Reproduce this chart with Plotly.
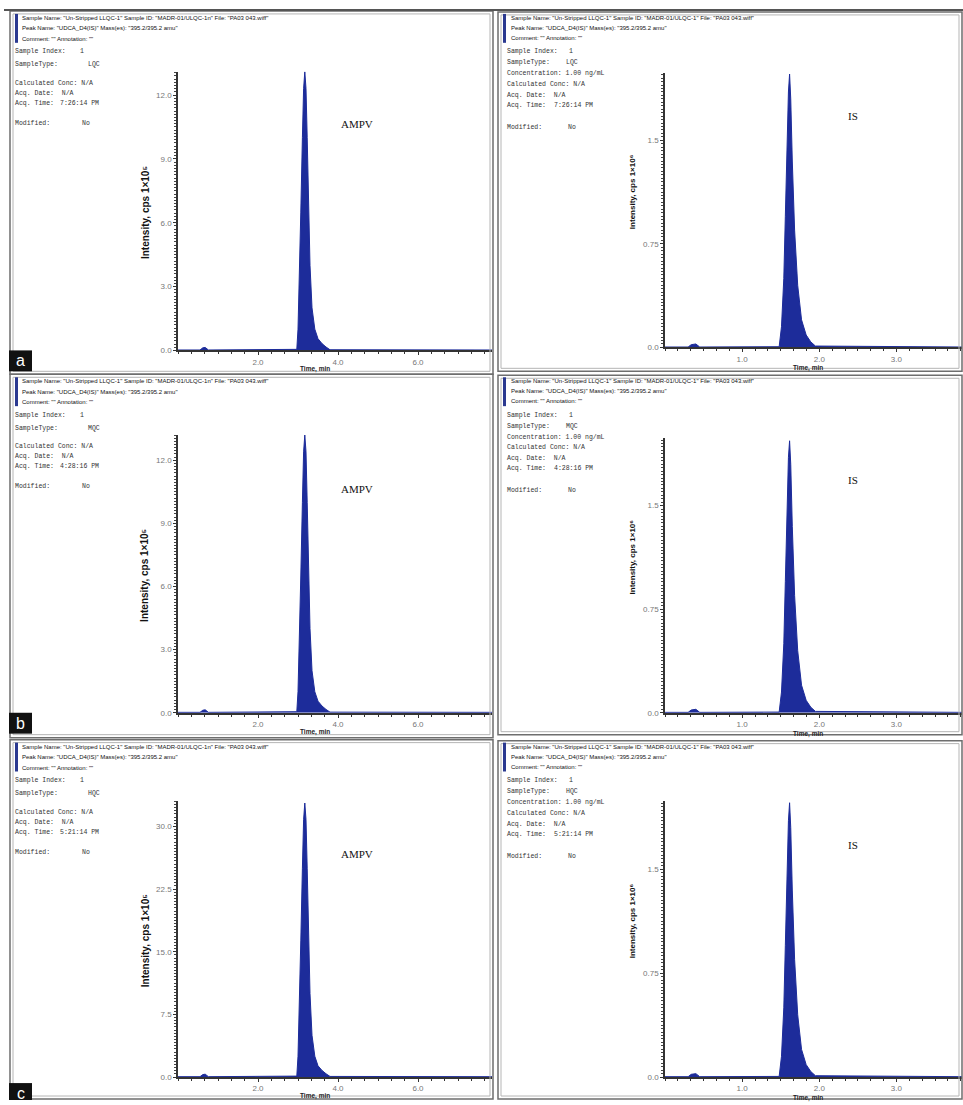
import plotly.graph_objects as go

W, H = 963, 1105

# ---------------- data ----------------
AMPV_TIME = [0.00, 0.55, 0.62, 0.68, 0.76, 2.97, 3.00, 3.03, 3.07, 3.11, 3.14, 3.17,
             3.20, 3.23, 3.26, 3.30, 3.35, 3.42, 3.50, 3.60, 3.70, 3.80, 7.85]
AMPV_LQC = [0.02, 0.02, 0.12, 0.14, 0.02, 0.05, 1.0, 3.0, 6.5, 10.0, 12.3, 13.1,
            12.3, 10.0, 7.0, 4.0, 2.0, 1.0, 0.55, 0.32, 0.16, 0.03, 0.02]
AMPV_MQC = [0.02, 0.02, 0.12, 0.14, 0.02, 0.05, 1.0, 3.0, 6.5, 10.0, 12.4, 13.2,
            12.4, 10.0, 7.0, 4.0, 2.0, 1.0, 0.55, 0.32, 0.16, 0.03, 0.02]
AMPV_HQC = [0.05, 0.05, 0.30, 0.35, 0.05, 0.12, 2.5, 7.5, 16.3, 25.0, 30.8, 32.8,
            30.8, 25.0, 17.5, 10.0, 5.0, 2.5, 1.35, 0.8, 0.4, 0.08, 0.05]

IS_TIME = [0.00, 0.30, 0.34, 0.40, 0.45, 1.48, 1.51, 1.54, 1.56, 1.58, 1.60, 1.615,
           1.63, 1.65, 1.68, 1.72, 1.77, 1.83, 1.89, 1.95, 3.85]
IS_LQC = [0.003, 0.003, 0.020, 0.025, 0.003, 0.005, 0.15, 0.50, 0.95, 1.45, 1.85, 1.98,
          1.80, 1.35, 0.85, 0.45, 0.20, 0.09, 0.04, 0.01, 0.003]
IS_MQC = [0.003, 0.003, 0.020, 0.025, 0.003, 0.005, 0.15, 0.50, 0.95, 1.45, 1.85, 1.97,
          1.80, 1.35, 0.85, 0.45, 0.20, 0.09, 0.04, 0.01, 0.003]
IS_HQC = [0.003, 0.003, 0.020, 0.025, 0.003, 0.005, 0.15, 0.50, 0.95, 1.45, 1.85, 1.98,
          1.80, 1.35, 0.85, 0.45, 0.20, 0.09, 0.04, 0.01, 0.003]

AMPV_YTICKS_LOW = [0.0, 3.0, 6.0, 9.0, 12.0]
AMPV_YTICKS_HIGH = [0.0, 7.5, 15.0, 22.5, 30.0]
IS_YTICKS = [0.0, 0.75, 1.5]
IS_YTICK_LABELS = ["0.0", "0.75", "1.5"]
AMPV_XTICKS = [2.0, 4.0, 6.0]
IS_XTICKS = [1.0, 2.0, 3.0]

SAMPLE_TYPES = ["LQC", "MQC", "HQC"]
ACQ_TIMES = ["7:26:14 PM", "4:28:16 PM", "5:21:14 PM"]
PANEL_LETTERS = ["a", "b", "c"]

HEADER_LEFT = ['Sample Name: "Un-Stripped LLQC-1" Sample ID: "MADR-01/ULQC-1n" File: "PA03 043.wiff"',
               'Peak Name: "UDCA_D4(IS)" Mass(es): "395.2/395.2 amu"',
               'Comment: "" Annotation: ""']
HEADER_RIGHT = ['Sample Name: "Un-Stripped LLQC-1" Sample ID: "MADR-01/ULQC-1" File: "PA03 043.wiff"',
                'Peak Name: "UDCA_D4(IS)" Mass(es): "395.2/395.2 amu"',
                'Comment: "" Annotation: ""']

# ---------------- helpers ----------------
def X(px):
    return px / W


def Y(py):
    return 1 - py / H


FILL = "#1d2c9a"
MONO = "Liberation Mono, DejaVu Sans Mono, monospace"
NARROW = "Liberation Sans Narrow, Liberation Sans, Arial Narrow, sans-serif"
SANS = "Liberation Sans, Arial, sans-serif"
SERIF = "Liberation Serif, Times New Roman, serif"

fig = go.Figure()
annotations = []
shapes = []

row_off = [0, 365, 732]
left_dom_y = [(72, 352), (437, 716), (805, 1082)]
right_dom_y = [(73, 349), (440, 716), (805, 1082)]
ampv_data = [AMPV_LQC, AMPV_MQC, AMPV_HQC]
is_data = [IS_LQC, IS_MQC, IS_HQC]
ampv_ymax = [13.1, 13.2, 33.0]
is_ymax = [1.99, 1.99, 1.99]
ampv_minor = [0.15, 0.15, 0.375]

axis_common = dict(showgrid=False, zeroline=False, showline=True, linecolor="#333",
                   linewidth=1.5, ticks="outside", ticklen=3, tickcolor="#333",
                   tickfont=dict(size=8, color="#777", family=NARROW), fixedrange=True)


def txt(x, y, s, font, size, color="#333", xanchor="left", angle=0, weight="normal"):
    annotations.append(dict(x=X(x), y=Y(y), xref="paper", yref="paper", text=s,
                            showarrow=False, xanchor=xanchor, yanchor="middle",
                            textangle=angle,
                            font=dict(family=font, size=size, color=color, weight=weight)))


for r in range(3):
    o = row_off[r]
    il = 2 * r + 1
    ir = 2 * r + 2
    # ----- left AMPV panel -----
    fig.add_trace(go.Scatter(x=AMPV_TIME, y=ampv_data[r], mode="lines", fill="tozeroy",
                             line=dict(color=FILL, width=1), fillcolor=FILL,
                             xaxis=f"x{il}", yaxis=f"y{il}", showlegend=False,
                             hoverinfo="skip"))
    yt = AMPV_YTICKS_HIGH if r == 2 else AMPV_YTICKS_LOW
    fig.layout[f"xaxis{il}"] = dict(axis_common, domain=[X(178), X(492)], range=[0, 7.85],
                                    anchor=f"y{il}", tickvals=AMPV_XTICKS, tickformat=".1f",
                                    minor=dict(dtick=1/3, tick0=0, ticks="outside", ticklen=2,
                                               tickcolor="#333"))
    fig.layout[f"yaxis{il}"] = dict(axis_common, domain=[Y(left_dom_y[r][1]), Y(left_dom_y[r][0])],
                                    range=[0, ampv_ymax[r]], anchor=f"x{il}", tickvals=yt,
                                    tickformat=".1f",
                                    minor=dict(dtick=ampv_minor[r], tick0=0, ticks="outside",
                                               ticklen=2, tickcolor="#444"))
    # ----- right IS panel -----
    fig.add_trace(go.Scatter(x=IS_TIME, y=is_data[r], mode="lines", fill="tozeroy",
                             line=dict(color=FILL, width=1), fillcolor=FILL,
                             xaxis=f"x{ir}", yaxis=f"y{ir}", showlegend=False,
                             hoverinfo="skip"))
    fig.layout[f"xaxis{ir}"] = dict(axis_common, domain=[X(665), X(962)], range=[0, 3.85],
                                    anchor=f"y{ir}", tickvals=IS_XTICKS, tickformat=".1f",
                                    minor=dict(dtick=1/6, tick0=0, ticks="outside", ticklen=2,
                                               tickcolor="#333"))
    fig.layout[f"yaxis{ir}"] = dict(axis_common, domain=[Y(right_dom_y[r][1]), Y(right_dom_y[r][0])],
                                    range=[0, is_ymax[r]], anchor=f"x{ir}", tickvals=IS_YTICKS,
                                    ticktext=IS_YTICK_LABELS,
                                    minor=dict(dtick=0.025, tick0=0, ticks="outside",
                                               ticklen=2, tickcolor="#444"))

    # ----- frames -----
    top = 11 + o
    bot_l = [376, 741, 1104][r]
    bot_r = [373, 738, 1104][r]
    for (x0, x1, y0, y1) in [(10, 493, top, bot_l), (498, 962, top + 1, bot_r)]:
        shapes.append(dict(type="rect", xref="paper", yref="paper", x0=X(x0), x1=X(x1),
                           y0=Y(y1), y1=Y(y0), line=dict(color="#6e6e6e", width=1.5)))
        shapes.append(dict(type="rect", xref="paper", yref="paper", x0=X(x0 + 3), x1=X(x1 - 3),
                           y0=Y(y1 - 3), y1=Y(y0 + 3), line=dict(color="#b5b5b5", width=1)))
    # blue header bars
    for xb in (15, 503):
        shapes.append(dict(type="rect", xref="paper", yref="paper", x0=X(xb), x1=X(xb + 3),
                           y0=Y(43 + o), y1=Y(14 + o), fillcolor="#2b3990", line=dict(width=0)))

    # ----- header text -----
    for k, s in enumerate(HEADER_LEFT):
        txt(20, 18 + o + 10.5 * k, s, NARROW, 6, "#111")
    for k, s in enumerate(HEADER_RIGHT):
        txt(509, 18 + o + 10 * k, s, NARROW, 6, "#111")

    # ----- left info block -----
    st = SAMPLE_TYPES[r]
    tm = ACQ_TIMES[r]
    txt(13, 52 + o, "Sample Index:", MONO, 6.5)
    txt(78, 52 + o, "1", MONO, 6.5)
    txt(13, 65 + o, "SampleType:", MONO, 6.5)
    txt(86, 65 + o, st, MONO, 6.5)
    txt(13, 84 + o, "Calculated Conc: N/A", MONO, 6.5)
    txt(13, 94 + o, "Acq. Date:  N/A", MONO, 6.5)
    txt(13, 104 + o, "Acq. Time:", MONO, 6.5)
    txt(58, 104 + o, tm, MONO, 6.5)
    txt(13, 124 + o, "Modified:", MONO, 6.5)
    txt(80, 124 + o, "No", MONO, 6.5)

    # ----- right info block -----
    txt(505, 52 + o, "Sample Index:", MONO, 6.5)
    txt(567, 52 + o, "1", MONO, 6.5)
    txt(505, 63 + o, "SampleType:", MONO, 6.5)
    txt(564, 63 + o, st, MONO, 6.5)
    txt(505, 74 + o, "Concentration: 1.00 ng/mL", MONO, 6.5)
    txt(505, 85 + o, "Calculated Conc: N/A", MONO, 6.5)
    txt(505, 96 + o, "Acq. Date:  N/A", MONO, 6.5)
    txt(505, 106 + o, "Acq. Time:", MONO, 6.5)
    txt(552, 106 + o, tm, MONO, 6.5)
    txt(505, 128 + o, "Modified:", MONO, 6.5)
    txt(566, 128 + o, "No", MONO, 6.5)

    # ----- axis titles -----
    lyc = (left_dom_y[r][0] + left_dom_y[r][1]) / 2
    ryc = (right_dom_y[r][0] + right_dom_y[r][1]) / 2 - 18
    txt(145, lyc + 2, "Intensity, cps 1×10⁵", SANS, 10, "#111", xanchor="center", angle=-90,
        weight="bold")
    txt(632, ryc, "Intensity, cps 1×10⁶", SANS, 8, "#111", xanchor="center", angle=-90,
        weight="bold")
    txt(315, left_dom_y[r][1] + 19, "Time, min", NARROW, 6.5, "#222", xanchor="center",
        weight="bold")
    txt(808, right_dom_y[r][1] + 21, "Time, min", NARROW, 6.5, "#222", xanchor="center",
        weight="bold")

    # ----- compound labels -----
    txt(357, 126 + o - (1 if r == 0 else 0), "AMPV", SERIF, 11, "#111", xanchor="center")
    txt(853, 117 + o, "IS", SERIF, 11, "#111", xanchor="center")

    # ----- panel letter -----
    ly0 = [352, 716, 1088][r]
    ly1 = [373, 737, 1105][r]
    shapes.append(dict(type="rect", xref="paper", yref="paper", x0=X(9), x1=X(32),
                       y0=Y(ly1), y1=Y(ly0), fillcolor="#111", line=dict(width=0)))
    txt(20.5, (ly0 + ly1) / 2 + (2 if r == 2 else 0), PANEL_LETTERS[r], SANS, 16, "#fff",
        xanchor="center")

# top dark edge
shapes.append(dict(type="line", xref="paper", yref="paper", x0=X(4), x1=X(963),
                   y0=Y(10), y1=Y(10), line=dict(color="#555", width=2)))

fig.update_layout(width=W, height=H, margin=dict(l=0, r=0, t=0, b=0),
                  paper_bgcolor="white", plot_bgcolor="white",
                  annotations=annotations, shapes=shapes, showlegend=False)

fig.write_html("out.html", config={"displayModeBar": False},
               post_script="document.body.style.margin='0';document.body.style.overflow='hidden';")
